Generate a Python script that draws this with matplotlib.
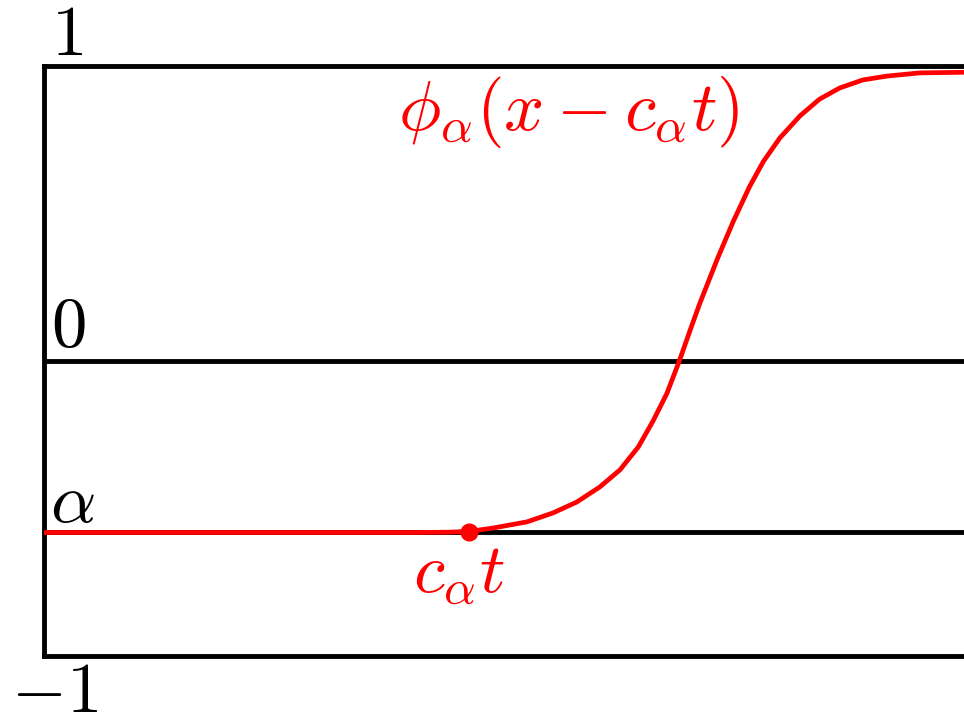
import matplotlib
matplotlib.use("Agg")
from matplotlib import pyplot as plt

plt.rcParams['mathtext.fontset'] = 'cm'
plt.rcParams['font.family'] = 'serif'
plt.rcParams['font.serif'] = ['DejaVu Serif']

# levels of the horizontal lines
alpha_level = -0.583
zero_level = 0.0

# travelling front phi_alpha(x - c_alpha t), sampled along x
front_x = [0.0, 2.0, 4.0, 4.40, 4.63, 4.88, 5.25, 5.53, 5.79, 6.04, 6.26,
           6.46, 6.62, 6.77, 6.91, 7.02, 7.13, 7.32, 7.49, 7.67, 7.82, 8.00,
           8.22, 8.43, 8.65, 8.90, 9.16, 9.52, 10.0]
front_y = [-0.583, -0.583, -0.583, -0.582, -0.579, -0.568, -0.547, -0.517,
           -0.480, -0.429, -0.371, -0.293, -0.205, -0.112, 0.002, 0.100,
           0.195, 0.345, 0.470, 0.590, 0.675, 0.755, 0.830, 0.886, 0.924,
           0.951, 0.964, 0.975, 0.977]

# position of c_alpha t on the front
dot_x = 4.62
dot_y = alpha_level

fig = plt.figure(figsize=(9.64, 7.13), dpi=100)
ax = fig.add_axes([44 / 964, 57.5 / 713, 1 - 44 / 964, 590 / 713])
ax.set_xlim(0, 10)
ax.set_ylim(-1, 1)
ax.set_xticks([])
ax.set_yticks([])
for side in ['left', 'top', 'bottom']:
    ax.spines[side].set_linewidth(3.5)
ax.spines['right'].set_visible(False)

ax.axhline(zero_level, color='black', lw=3.5, zorder=2)
ax.axhline(alpha_level, color='black', lw=3.5, zorder=2)

ax.plot(front_x, front_y, color='red', lw=3.4, zorder=4,
        solid_capstyle='butt', solid_joinstyle='round', clip_on=False)
ax.plot([dot_x], [dot_y], 'o', color='red', ms=12, zorder=5)

fs = 51
ax.text(0.08, 1.036, r'$1$', fontsize=fs, ha='left', va='baseline')
ax.text(0.08, 0.049, r'$0$', fontsize=fs, ha='left', va='baseline')
ax.text(0.06, -0.547, r'$\alpha$', fontsize=fs, ha='left', va='baseline')
ax.text(-0.36, -1.19, r'$-1$', fontsize=fs, ha='left', va='baseline')

ax.text(3.85, 0.781, r'$\phi_\alpha(x - c_\alpha t)$', fontsize=fs,
        color='red', ha='left', va='baseline')
ax.text(4.01, -0.785, r'$c_\alpha t$', fontsize=fs, color='red',
        ha='left', va='baseline')

fig.savefig('out.png', dpi=100)
